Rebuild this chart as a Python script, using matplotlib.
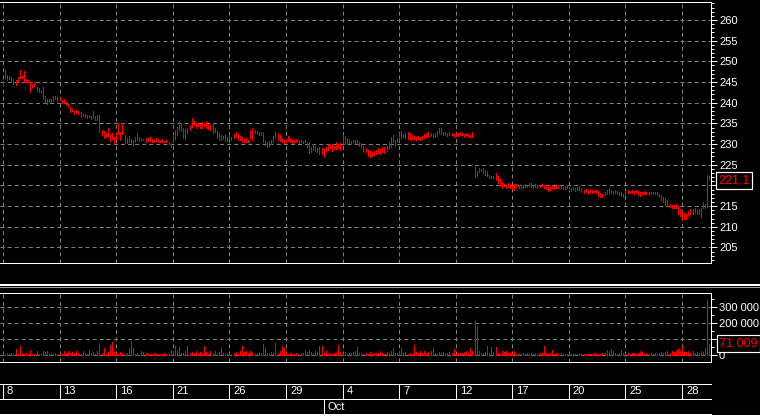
import numpy as np
import matplotlib
matplotlib.use('Agg')
import matplotlib.pyplot as plt
from matplotlib.ticker import MultipleLocator, FuncFormatter
from matplotlib.lines import Line2D

# hourly bars, 9 per day, Sep 8 .. Oct 31
hi = [245.3, 248.0, 246.8, 246.5, 246.3, 245.8, 245.5, 246.2, 247.8, 246.5,
      247.7, 245.8, 245.5, 245.0, 244.6, 245.1, 243.9, 243.5, 242.9, 243.8,
      241.6, 241.0, 240.8, 241.0, 241.6, 241.6, 241.3, 241.5, 240.6, 240.9,
      240.2, 239.8, 239.0, 238.6, 238.0, 238.2, 237.9, 237.7, 237.3, 237.2,
      237.0, 237.1, 236.7, 238.0, 236.8, 237.0, 237.0, 233.5, 233.2, 232.6,
      234.0, 232.5, 232.7, 231.8, 233.0, 235.0, 233.0, 235.2, 232.2, 231.4,
      232.0, 231.2, 231.0, 231.8, 232.7, 231.7, 231.5, 231.2, 231.5, 231.4,
      231.6, 231.3, 231.0, 231.5, 231.2, 231.0, 231.2, 230.8, 231.0, 230.5,
      230.2, 233.0, 233.5, 234.2, 235.6, 235.0, 234.0, 233.6, 234.0, 234.6,
      236.3, 235.5, 235.0, 235.2, 234.8, 235.4, 235.0, 235.6, 234.8, 234.5,
      235.0, 233.8, 233.2, 232.8, 232.2, 232.0, 232.4, 231.7, 232.1, 231.6,
      232.5, 233.0, 232.4, 232.0, 231.6, 231.2, 231.4, 231.0, 233.4, 233.9,
      233.4, 233.2, 233.0, 233.0, 233.0, 231.0, 230.6, 230.8, 231.0, 232.0,
      233.0, 232.8, 232.2, 231.4, 231.0, 231.2, 232.0, 231.5, 231.0, 230.9,
      231.2, 230.9, 231.1, 230.8, 231.0, 230.6, 230.5, 229.4, 230.0, 229.6,
      229.0, 229.2, 229.0, 228.8, 229.4, 230.0, 229.8, 230.0, 229.6, 230.6,
      230.0, 230.2, 232.2, 232.0, 231.4, 231.3, 230.8, 231.0, 230.9, 231.0,
      230.6, 230.2, 229.5, 229.0, 228.6, 228.4, 228.0, 228.4, 228.6, 229.0,
      228.8, 229.2, 229.4, 229.6, 230.4, 231.6, 232.2, 231.0, 231.4, 232.6,
      233.2, 232.5, 232.8, 233.0, 232.8, 232.2, 232.0, 231.8, 231.9, 231.6,
      232.0, 232.4, 232.8, 233.0, 232.8, 232.4, 232.6, 233.2, 234.0, 233.8,
      233.0, 232.9, 232.6, 233.0, 232.8, 232.4, 232.7, 232.6, 232.9, 232.7,
      232.5, 232.6, 232.4, 232.2, 233.0, 224.5, 223.6, 224.2, 224.0, 224.2,
      223.8, 223.4, 222.6, 222.3, 222.4, 223.0, 222.2, 221.5, 220.8, 220.4,
      220.2, 220.5, 220.3, 220.0, 220.4, 220.3, 220.1, 220.0, 220.2, 220.4,
      220.2, 220.6, 220.5, 220.2, 220.4, 220.0, 220.2, 220.4, 220.1, 220.0,
      219.6, 219.8, 220.0, 219.8, 219.9, 220.2, 220.0, 219.7, 219.8, 220.0,
      219.6, 219.5, 219.6, 219.4, 219.7, 219.8, 219.3, 219.0, 219.2, 219.0,
      219.1, 218.9, 219.0, 218.8, 218.6, 218.2, 218.0, 218.4, 218.8, 219.3,
      218.9, 218.7, 218.8, 218.6, 218.4, 218.3, 218.0, 218.6, 218.8, 218.7,
      218.8, 218.6, 218.8, 218.6, 218.5, 218.4, 218.6, 218.5, 218.3, 218.5,
      218.4, 218.4, 218.3, 218.0, 217.6, 217.2, 217.0, 216.6, 215.4, 215.3,
      215.2, 215.4, 215.0, 214.4, 213.6, 213.4, 213.2, 213.8, 214.4, 214.2,
      214.6, 214.0, 214.4, 214.6, 216.0, 215.6, 222.5, 222.4]

lo = [244.0, 246.0, 245.5, 245.8, 245.3, 244.6, 244.2, 245.0, 246.0, 245.9,
      245.0, 245.0, 244.9, 242.6, 243.8, 244.0, 242.8, 242.6, 242.4, 241.0,
      239.9, 239.6, 240.2, 240.2, 240.3, 240.8, 240.4, 240.6, 240.0, 239.9,
      239.5, 238.9, 237.8, 237.9, 237.2, 237.4, 237.3, 236.5, 236.9, 236.6,
      236.3, 236.5, 236.0, 236.2, 235.8, 235.9, 233.0, 232.3, 231.5, 231.8,
      232.0, 230.8, 231.2, 230.0, 231.2, 232.4, 231.0, 232.5, 230.3, 230.2,
      230.4, 229.9, 229.8, 230.4, 231.0, 230.8, 230.7, 230.9, 230.6, 230.7,
      230.8, 230.6, 230.4, 230.8, 230.6, 230.5, 230.4, 230.4, 230.6, 229.9,
      229.4, 230.5, 231.2, 232.2, 233.5, 233.2, 231.5, 231.2, 232.7, 233.3,
      234.2, 234.5, 234.0, 234.4, 234.0, 234.0, 234.4, 234.0, 233.6, 233.4,
      232.6, 233.0, 231.5, 230.9, 231.0, 231.2, 230.8, 230.8, 231.2, 230.9,
      231.4, 231.6, 230.9, 231.0, 230.6, 230.5, 230.6, 230.4, 231.5, 231.0,
      232.6, 232.4, 232.2, 232.3, 230.6, 229.8, 229.3, 229.6, 229.9, 230.5,
      231.5, 231.0, 230.7, 230.4, 230.2, 230.5, 230.8, 230.6, 230.3, 230.4,
      230.6, 230.3, 230.5, 230.2, 230.4, 229.3, 227.8, 228.2, 228.6, 228.3,
      228.1, 227.7, 227.5, 226.8, 228.3, 228.5, 229.0, 228.4, 228.8, 228.8,
      229.0, 228.6, 229.8, 230.0, 230.2, 230.3, 230.1, 230.4, 230.2, 230.3,
      229.5, 229.2, 228.0, 228.2, 227.2, 226.9, 227.2, 227.4, 227.6, 227.8,
      227.6, 228.0, 227.8, 228.4, 228.8, 229.2, 230.6, 229.6, 230.4, 231.0,
      231.4, 231.6, 231.5, 231.2, 230.9, 231.2, 231.0, 231.0, 231.2, 231.0,
      231.2, 231.5, 231.8, 231.6, 231.9, 231.8, 231.7, 232.0, 232.6, 232.4,
      232.2, 232.3, 231.9, 232.2, 232.3, 231.8, 231.9, 232.0, 232.2, 232.1,
      231.8, 232.1, 231.6, 231.8, 231.7, 222.0, 222.3, 223.2, 223.4, 223.0,
      222.6, 222.2, 221.8, 221.9, 221.8, 221.2, 220.6, 219.8, 219.4, 219.8,
      219.5, 219.6, 219.4, 219.2, 219.0, 219.6, 219.5, 219.5, 219.4, 219.7,
      219.6, 219.8, 219.7, 219.5, 219.6, 219.4, 219.6, 219.8, 219.5, 219.2,
      218.6, 219.0, 219.3, 219.2, 219.4, 219.5, 219.4, 219.1, 219.2, 219.3,
      219.0, 218.7, 218.9, 218.6, 218.9, 219.0, 218.4, 218.2, 218.4, 218.0,
      218.3, 218.2, 218.4, 218.1, 217.4, 217.2, 217.3, 217.6, 218.0, 218.1,
      218.2, 218.0, 218.2, 217.9, 217.6, 217.5, 217.3, 217.9, 218.2, 218.1,
      218.2, 218.0, 218.3, 217.8, 217.5, 217.9, 218.0, 218.0, 217.8, 218.0,
      217.9, 218.0, 217.6, 217.2, 216.5, 216.0, 215.2, 215.0, 214.8, 214.6,
      214.6, 214.5, 213.0, 212.6, 212.0, 211.8, 212.0, 212.6, 213.0, 213.0,
      213.4, 213.0, 213.2, 212.4, 214.6, 214.6, 214.8, 221.2]

last_close = 221.1

# volume, thousands
vol_k = [8, 5, 12, 6, 10, 4, 37, 9, 58, 14,
         6, 11, 7, 33, 5, 9, 27, 4, 8, 25,
         18, 22, 6, 10, 4, 12, 7, 9, 5, 24,
         14, 28, 10, 20, 8, 26, 12, 6, 22, 15,
         9, 30, 11, 18, 7, 25, 78, 12, 43, 9,
         16, 62, 83, 25, 10, 8, 20, 14, 6, 12,
         43, 83, 43, 9, 15, 7, 22, 18, 11, 5,
         8, 4, 12, 6, 9, 5, 7, 10, 4, 8,
         30, 18, 54, 22, 47, 15, 10, 24, 54, 12,
         18, 9, 26, 14, 20, 11, 58, 16, 8, 22,
         13, 27, 9, 18, 47, 12, 6, 10, 15, 8,
         12, 20, 9, 25, 58, 16, 22, 10, 28, 14,
         8, 12, 20, 11, 70, 43, 15, 9, 18, 12,
         78, 10, 22, 54, 43, 14, 8, 11, 6, 9,
         12, 5, 14, 10, 28, 16, 30, 20, 12, 25,
         18, 58, 54, 14, 22, 9, 12, 6, 10, 15,
         65, 20, 12, 18, 9, 14, 10, 16, 25, 50,
         11, 8, 14, 12, 9, 16, 6, 13, 10, 12,
         22, 14, 9, 18, 12, 26, 43, 15, 10, 20,
         43, 12, 18, 9, 14, 8, 60, 16, 10, 22,
         14, 28, 12, 18, 25, 43, 10, 8, 16, 12,
         20, 9, 14, 18, 11, 36, 8, 12, 10, 14,
         18, 22, 12, 43, 26, 214, 181, 22, 14, 10,
         18, 54, 12, 47, 20, 50, 14, 9, 22, 16,
         28, 12, 18, 10, 22, 9, 14, 6, 12, 8,
         10, 6, 14, 9, 12, 7, 10, 15, 58, 12,
         9, 14, 30, 8, 12, 6, 10, 5, 8, 4,
         7, 9, 5, 8, 6, 10, 4, 7, 9, 5,
         8, 6, 10, 5, 9, 7, 12, 14, 30, 22,
         40, 28, 12, 9, 14, 30, 10, 8, 12, 6,
         10, 14, 9, 12, 25, 18, 8, 10, 6, 12,
         9, 14, 8, 11, 16, 12, 20, 25, 14, 28,
         18, 30, 43, 22, 54, 20, 16, 28, 12, 22,
         14, 20, 10, 24, 18, 43, 344, 71.009]

bars_per_day = 9
day_labels = ['8', '13', '16', '21', '26', '29', '4', '7', '12', '17', '20', '25', '28']
day_num = [0, 3, 6, 9, 12, 15, 18, 21, 24, 27, 30, 33, 36]
month_labels = ['Oct']
month_day = [17]

W, H = 760, 416
PX = 0.72  # one pixel in points
plt.rcParams['font.family'] = ['Liberation Sans', 'DejaVu Sans']
plt.rcParams['font.size'] = 8
plt.rcParams['lines.scale_dashes'] = False


def box(x0, y0, x1, y1):
    return [x0 / W, 1 - y1 / H, (x1 - x0) / W, (y1 - y0) / H]


x = np.arange(len(hi))
vol = np.array(vol_k) * 1000
day_pos = np.array(day_num) * bars_per_day
month_pos = np.array(month_day) * bars_per_day
xlim = (-1.43, 337.8)
grid_style = dict(color='#808080', linestyle=(0, (2.9, 2.2)), linewidth=PX)

fig = plt.figure(figsize=(W / 100, H / 100), dpi=100, facecolor='black')


def style_panel(a):
    a.set_facecolor('black')
    a.set_xlim(xlim)
    for s in ['top', 'bottom', 'right']:
        a.spines[s].set_color('white')
        a.spines[s].set_linewidth(PX)
    a.spines['left'].set_visible(False)
    a.set_xticks(day_pos)
    a.tick_params(axis='x', length=0, labelbottom=False)
    a.yaxis.tick_right()
    a.tick_params(axis='y', which='major', length=6 * PX, width=PX, colors='white',
                  labelsize=8, pad=1.5)
    a.tick_params(axis='y', which='minor', length=3 * PX, width=PX, colors='white')
    a.grid(True, **grid_style)
    a.set_axisbelow(True)


# price panel
ax = fig.add_axes(box(0, 2, 711, 263))
style_panel(ax)
ax.vlines(x, lo, hi, colors='#ff0000', linewidth=PX, antialiased=False)
ax.set_ylim(201.25, 264.35)
ax.yaxis.set_major_locator(MultipleLocator(5))
ax.yaxis.set_minor_locator(MultipleLocator(1))
ax.annotate('221,1', xy=(1, last_close), xycoords=('axes fraction', 'data'),
            xytext=(7.5 * PX, 0), textcoords='offset points', ha='left', va='center',
            color='#ff0000', fontsize=9, annotation_clip=False, zorder=10,
            bbox=dict(boxstyle='square,pad=0.2', fc='black', ec='white', lw=1.2 * PX))

# volume panel
axv = fig.add_axes(box(0, 293, 711, 362))
style_panel(axv)
axv.vlines(x, 0, vol, colors='#ff0000', linewidth=PX, antialiased=False)
axv.set_ylim(-43750, 387500)
axv.yaxis.set_major_locator(MultipleLocator(100000))
axv.yaxis.set_minor_locator(MultipleLocator(50000))
axv.yaxis.set_major_formatter(FuncFormatter(lambda v, p: f"{int(v):,}".replace(',', ' ')))
axv.annotate('71 009', xy=(1, vol[-1]), xycoords=('axes fraction', 'data'),
             xytext=(8 * PX, 0), textcoords='offset points', ha='left', va='center',
             color='#ff0000', fontsize=9, annotation_clip=False, zorder=10,
             bbox=dict(boxstyle='square,pad=0.2', fc='black', ec='white', lw=1.2 * PX))

# date rows
axd = fig.add_axes(box(0, 384, 711, 399))
axm = fig.add_axes(box(0, 399, 711, 414))
for a in [axd, axm]:
    a.set_facecolor('black')
    a.set_xlim(xlim)
    a.set_ylim(0, 1)
    a.set_xticks([])
    a.set_yticks([])
    for s in ['left', 'right']:
        a.spines[s].set_visible(False)
    for s in ['top', 'bottom']:
        a.spines[s].set_color('white')
        a.spines[s].set_linewidth(PX)

axd.vlines(day_pos, 0, 1, colors='white', linewidth=PX)
for p, lab in zip(day_pos, day_labels):
    axd.annotate(lab, xy=(p, 0.5), xytext=(4 * PX, 0), textcoords='offset points',
                 ha='left', va='center', color='white', fontsize=8)
axm.vlines(month_pos, 0, 1, colors='white', linewidth=PX)
for p, lab in zip(month_pos, month_labels):
    axm.annotate(lab, xy=(p, 0.5), xytext=(4 * PX, 0), textcoords='offset points',
                 ha='left', va='center', color='white', fontsize=8)

# full width separators
fig.add_artist(Line2D([0, 1], [1 - 285.0 / H] * 2, color='white', linewidth=2 * PX))
fig.add_artist(Line2D([0, 1], [1 - 286.5 / H] * 2, color='#a0a0a0', linewidth=PX))
fig.add_artist(Line2D([0, 1], [1 - 414.5 / H] * 2, color='white', linewidth=PX))

fig.savefig('out.png', dpi=100, facecolor='black')
